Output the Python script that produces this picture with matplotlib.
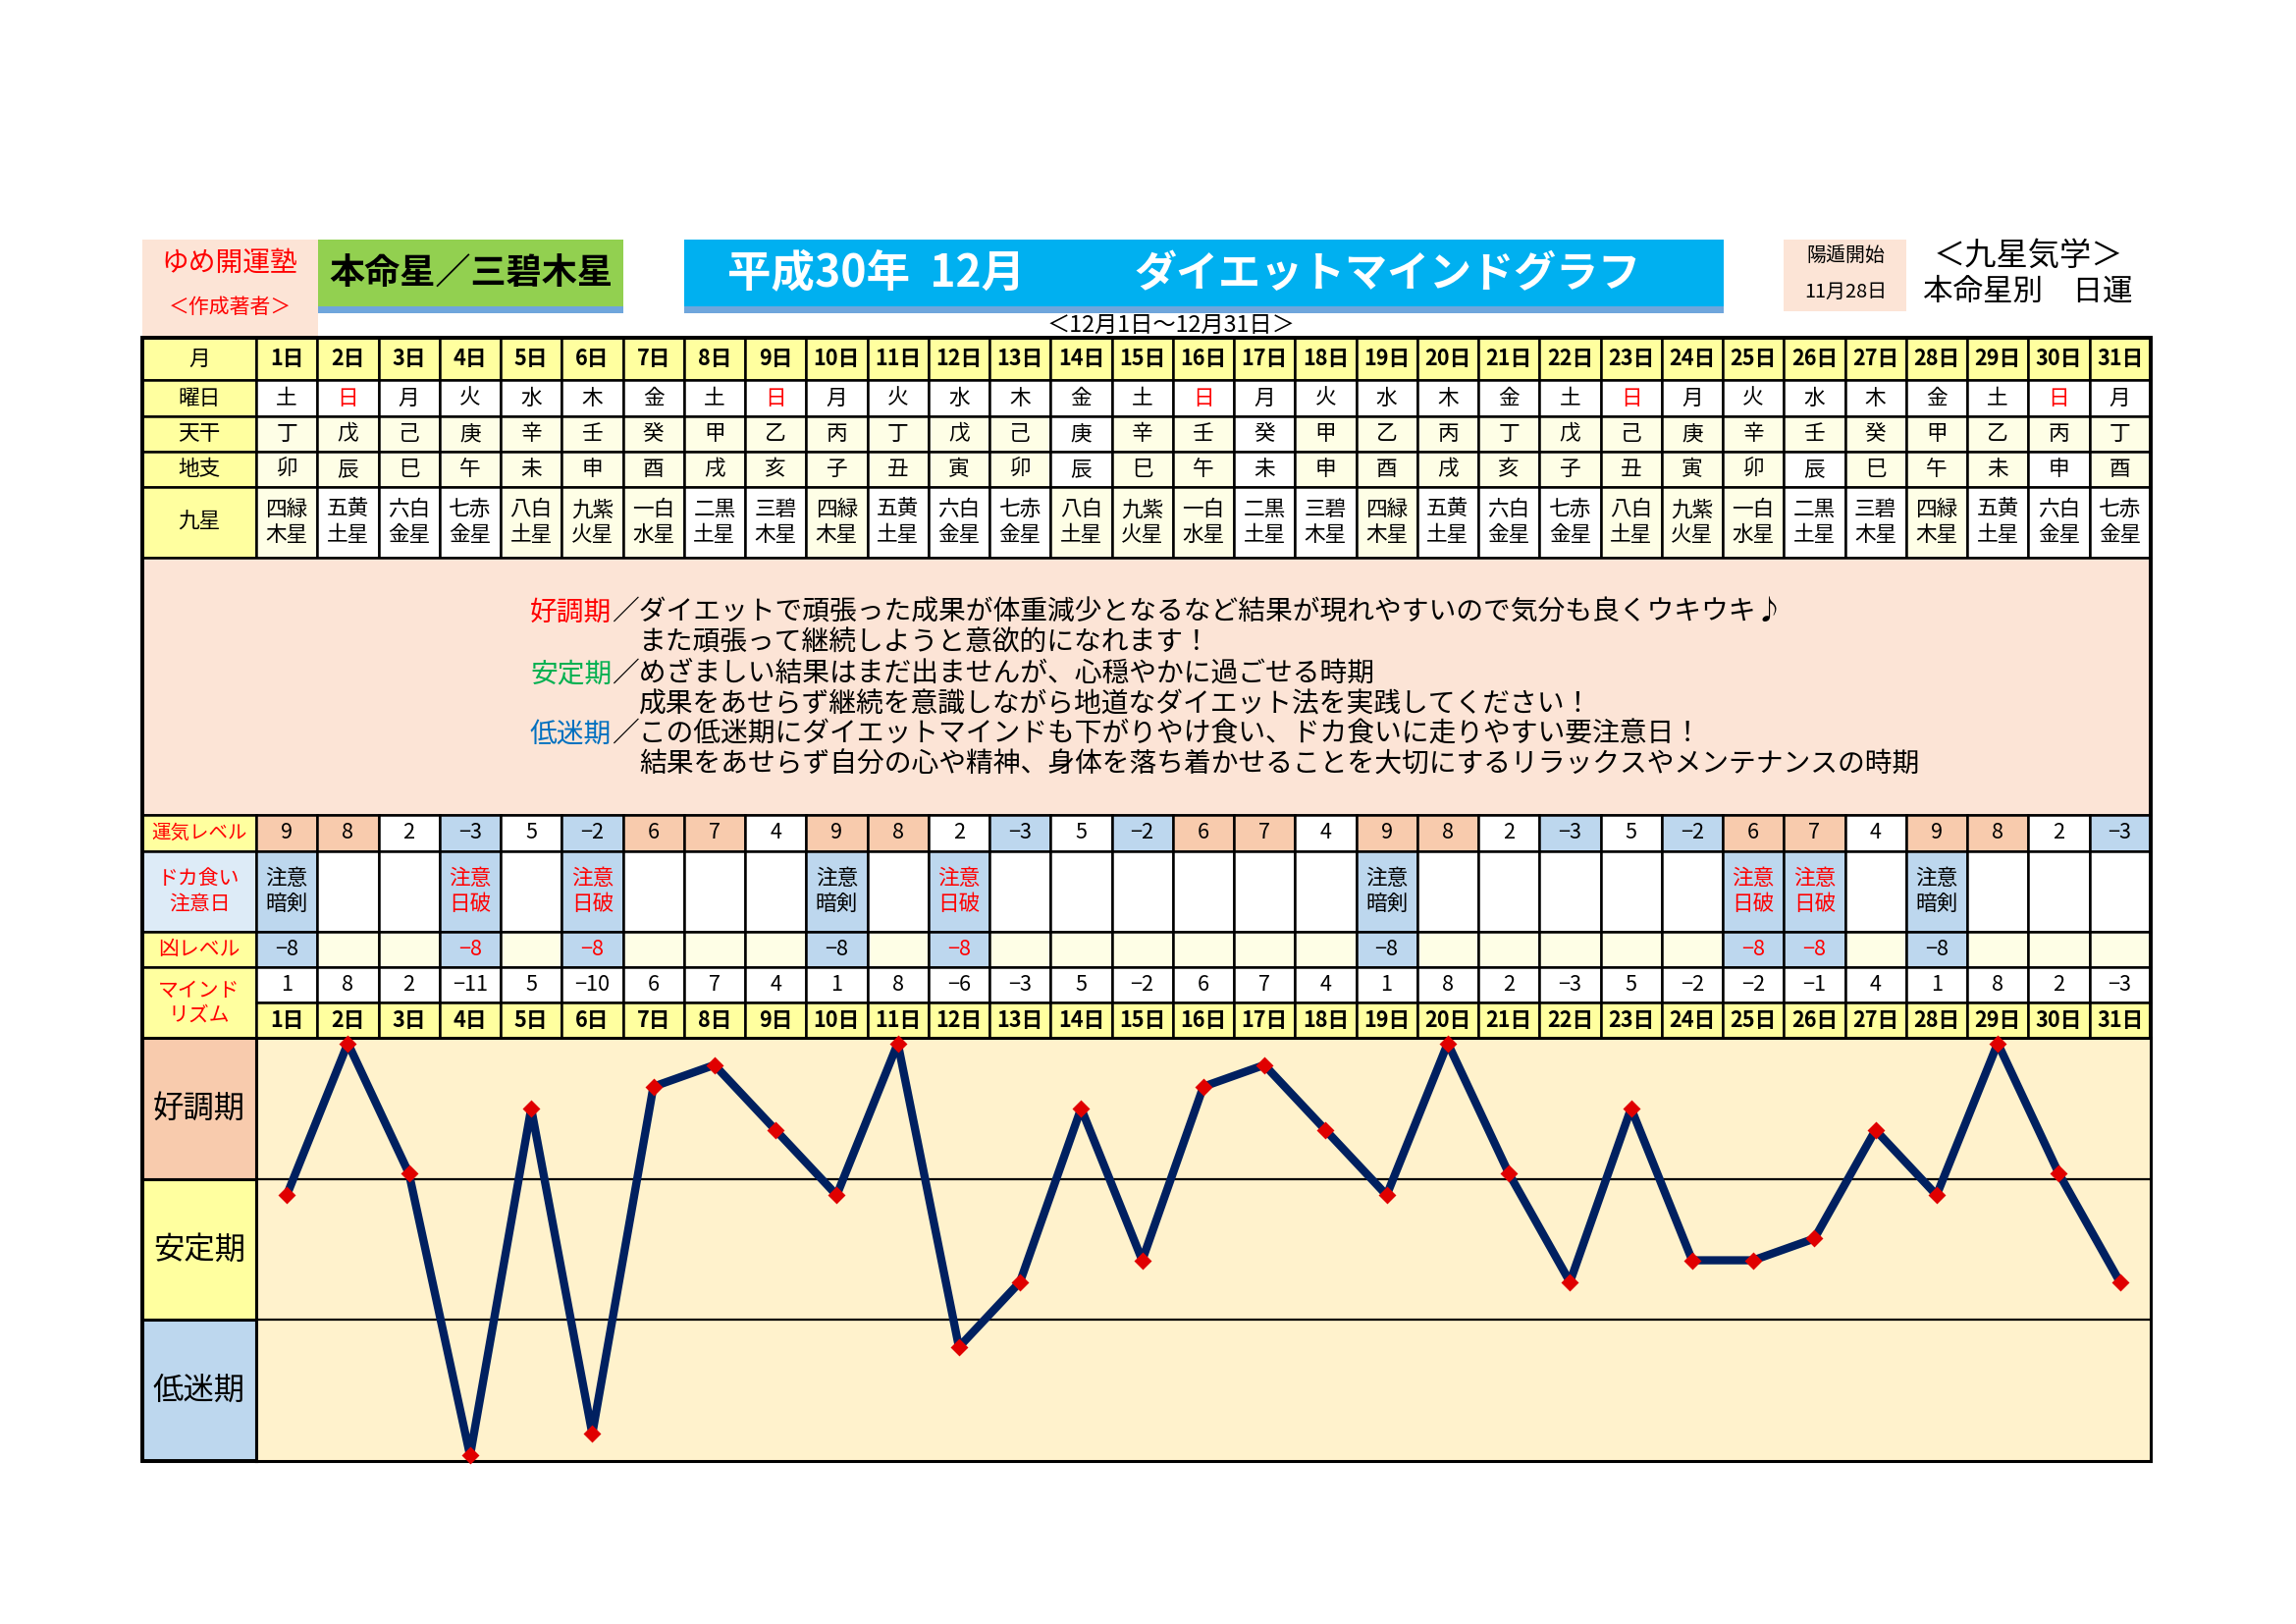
import matplotlib
matplotlib.use("Agg")
import matplotlib.pyplot as plt
from matplotlib.patches import Rectangle

plt.rcParams['font.family'] = ['Noto Sans CJK JP', 'DejaVu Sans']

# ---- data ----
day_nums = [1, 2, 3, 4, 5, 6, 7, 8, 9, 10, 11, 12, 13, 14, 15, 16,
            17, 18, 19, 20, 21, 22, 23, 24, 25, 26, 27, 28, 29, 30, 31]
weekdays = ["土", "日", "月", "火", "水", "木", "金", "土", "日", "月", "火",
            "水", "木", "金", "土", "日", "月", "火", "水", "木", "金", "土",
            "日", "月", "火", "水", "木", "金", "土", "日", "月"]
tenkan = ["丁", "戊", "己", "庚", "辛", "壬", "癸", "甲", "乙", "丙", "丁",
          "戊", "己", "庚", "辛", "壬", "癸", "甲", "乙", "丙", "丁", "戊",
          "己", "庚", "辛", "壬", "癸", "甲", "乙", "丙", "丁"]
chishi = ["卯", "辰", "巳", "午", "未", "申", "酉", "戌", "亥", "子", "丑",
          "寅", "卯", "辰", "巳", "午", "未", "申", "酉", "戌", "亥", "子",
          "丑", "寅", "卯", "辰", "巳", "午", "未", "申", "酉"]
kyusei = ["四緑\n木星", "五黄\n土星", "六白\n金星", "七赤\n金星", "八白\n土星",
          "九紫\n火星", "一白\n水星", "二黒\n土星", "三碧\n木星",
          "四緑\n木星", "五黄\n土星", "六白\n金星", "七赤\n金星", "八白\n土星",
          "九紫\n火星", "一白\n水星", "二黒\n土星", "三碧\n木星",
          "四緑\n木星", "五黄\n土星", "六白\n金星", "七赤\n金星", "八白\n土星",
          "九紫\n火星", "一白\n水星", "二黒\n土星", "三碧\n木星",
          "四緑\n木星", "五黄\n土星", "六白\n金星", "七赤\n金星"]
unki_level = [9, 8, 2, -3, 5, -2, 6, 7, 4, 9, 8, 2, -3, 5, -2, 6,
              7, 4, 9, 8, 2, -3, 5, -2, 6, 7, 4, 9, 8, 2, -3]
caution_days = [1, 4, 6, 10, 12, 19, 25, 26, 28]
caution_kind = ["暗剣", "日破", "日破", "暗剣", "日破", "暗剣", "日破", "日破", "暗剣"]
kyo_value = -8
mind_rhythm = [1, 8, 2, -11, 5, -10, 6, 7, 4, 1, 8, -6, -3, 5, -2, 6,
               7, 4, 1, 8, 2, -3, 5, -2, -2, -1, 4, 1, 8, 2, -3]
phase_names = ["好調期", "安定期", "低迷期"]

notes = [
    ("好調期", "／ダイエットで頑張った成果が体重減少となるなど結果が現れやすいので気分も良くウキウキ♪",
     "また頑張って継続しようと意欲的になれます！"),
    ("安定期", "／めざましい結果はまだ出ませんが、心穏やかに過ごせる時期",
     "成果をあせらず継続を意識しながら地道なダイエット法を実践してください！"),
    ("低迷期", "／この低迷期にダイエットマインドも下がりやけ食い、ドカ食いに走りやすい要注意日！",
     "結果をあせらず自分の心や精神、身体を落ち着かせることを大切にするリラックスやメンテナンスの時期"),
]

# ---- colours ----
YELLOW = "#FFFF9F"
PALE = "#FEFEE6"
SALMON = "#F8CBAD"
BLUE = "#BDD7EE"
LBLUE = "#DDEBF7"
PEACH = "#FCE4D6"
GRAPH_BG = "#FFF2CC"
RED = "#FF0000"
note_colors = ["#FF0000", "#00B050", "#0070C0"]
pale_star = ("四緑", "八白", "九紫", "一白")
white_tenkan = (14, 17)
white_chishi = (14, 17, 26, 30)

# ---- layout (pixels) ----
W, H = 2339, 1654
TL, TLC = 145, 261
CW = 62.25
TR = TLC + 31 * CW
Y = [344, 387, 424, 460, 496, 568, 830, 867, 949, 985, 1021, 1057, 1488]
YMAX, YMIN = 8.25, -11.25
FS = 7.8


def num(v):
    return str(v).replace("-", "\u2212")


fig = plt.figure(figsize=(W / 200, H / 200), dpi=200)
cv = fig.add_axes([0, 0, 1, 1])
cv.set_xlim(0, W)
cv.set_ylim(H, 0)
cv.axis("off")


def box(x0, y0, x1, y1, fc, lw=0.9, ec="black"):
    cv.add_patch(Rectangle((x0, y0), x1 - x0, y1 - y0, facecolor=fc,
                           edgecolor=ec, linewidth=lw))


def txt(x, y, s, size=FS, color="black", weight="normal", ha="center", ls=1.15):
    cv.text(x, y, s, fontsize=size, color=color, fontweight=weight,
            ha=ha, va="center", linespacing=ls)


def cx(i):
    return TLC + (i + 0.5) * CW


# ---- header blocks ----
box(TL, 244, 324, Y[0], PEACH, lw=0)
txt(234, 268, "ゆめ開運塾", size=10, color=RED)
txt(234, 313, "＜作成著者＞", size=7.5, color=RED)

box(324, 244, 635, 312, "#92D050", lw=0)
box(324, 312, 635, 319, "#6FA6DC", lw=0)
txt(480, 279, "本命星／三碧木星", size=13, weight="bold")

box(697, 244, 1756, 312, "#00B0F0", lw=0)
box(697, 312, 1756, 319, "#6FA6DC", lw=0)
txt(893, 279, "平成30年  12月", size=16, color="white", weight="bold")
txt(1413, 279, "ダイエットマインドグラフ", size=15.5, color="white", weight="bold")

box(1817, 244, 1942, 317, PEACH, lw=0)
txt(1880, 260, "陽遁開始", size=7.2)
txt(1880, 297, "11月28日", size=7.2)

txt(2066, 261, "＜九星気学＞", size=11.6)
txt(2066, 297, "本命星別　日運", size=11)
txt(1193, 331, "＜12月1日～12月31日＞", size=8.4)

# ---- calendar rows ----
row_labels = ["月", "曜日", "天干", "地支", "九星"]
for r, lab in enumerate(row_labels):
    box(TL, Y[r], TLC, Y[r + 1], YELLOW)
    txt((TL + TLC) / 2, (Y[r] + Y[r + 1]) / 2, lab)

for i, d in enumerate(day_nums):
    x0, x1 = TLC + i * CW, TLC + (i + 1) * CW
    box(x0, Y[0], x1, Y[1], YELLOW)
    txt(cx(i), (Y[0] + Y[1]) / 2, f"{d}日", weight="bold")

    box(x0, Y[1], x1, Y[2], "white")
    txt(cx(i), (Y[1] + Y[2]) / 2, weekdays[i],
        color=RED if weekdays[i] == "日" else "black")

    box(x0, Y[2], x1, Y[3], "white" if d in white_tenkan else PALE)
    txt(cx(i), (Y[2] + Y[3]) / 2, tenkan[i])

    box(x0, Y[3], x1, Y[4], "white" if d in white_chishi else PALE)
    txt(cx(i), (Y[3] + Y[4]) / 2, chishi[i])

    box(x0, Y[4], x1, Y[5], PALE if kyusei[i][:2] in pale_star else "white")
    txt(cx(i), (Y[4] + Y[5]) / 2, kyusei[i], ls=1.2)

# ---- description block ----
box(TL, Y[5], TR, Y[6], PEACH)
NFS = 10
em = NFS * 200 / 72
ny = 624
for (head, rest, cont), col in zip(notes, note_colors):
    txt(540, ny, head, size=NFS, color=col, ha="left")
    txt(540 + 3 * em, ny, rest, size=NFS, ha="left")
    txt(540 + 4 * em, ny + 31, cont, size=NFS, ha="left")
    ny += 62

# ---- level rows ----
box(TL, Y[6], TLC, Y[7], YELLOW)
txt((TL + TLC) / 2, (Y[6] + Y[7]) / 2, "運気レベル", size=7, color=RED)
box(TL, Y[7], TLC, Y[8], LBLUE)
txt((TL + TLC) / 2, (Y[7] + Y[8]) / 2, "ドカ食い\n注意日", size=7.5, color=RED)
box(TL, Y[8], TLC, Y[9], YELLOW)
txt((TL + TLC) / 2, (Y[8] + Y[9]) / 2, "凶レベル", size=7.5, color=RED)
box(TL, Y[9], TLC, Y[11], YELLOW)
txt((TL + TLC) / 2, (Y[9] + Y[11]) / 2, "マインド\nリズム", size=7.5, color=RED)

for i, d in enumerate(day_nums):
    x0, x1 = TLC + i * CW, TLC + (i + 1) * CW
    v = unki_level[i]
    fc = SALMON if v >= 6 else (BLUE if v < 0 else "white")
    box(x0, Y[6], x1, Y[7], fc)
    txt(cx(i), (Y[6] + Y[7]) / 2, num(v))

    if d in caution_days:
        kind = caution_kind[caution_days.index(d)]
        col = RED if kind == "日破" else "black"
        box(x0, Y[7], x1, Y[8], BLUE)
        txt(cx(i), (Y[7] + Y[8]) / 2, "注意\n" + kind, color=col, ls=1.2)
        box(x0, Y[8], x1, Y[9], BLUE)
        txt(cx(i), (Y[8] + Y[9]) / 2, num(kyo_value), color=col)
    else:
        box(x0, Y[7], x1, Y[8], "white")
        box(x0, Y[8], x1, Y[9], PALE)

    box(x0, Y[9], x1, Y[10], "white")
    txt(cx(i), (Y[9] + Y[10]) / 2, num(mind_rhythm[i]))
    box(x0, Y[10], x1, Y[11], YELLOW)
    txt(cx(i), (Y[10] + Y[11]) / 2, f"{d}日", weight="bold")

# ---- graph: phase labels ----
gtop, gbot = Y[11], Y[12]
band_edges = [gtop + k * (gbot - gtop) / 3 for k in range(4)]
for k, (name, fc) in enumerate(zip(phase_names, [SALMON, YELLOW, BLUE])):
    box(TL, band_edges[k], TLC, band_edges[k + 1], fc, lw=1.1)
    txt((TL + TLC) / 2, (band_edges[k] + band_edges[k + 1]) / 2, name, size=11.3)

ax = fig.add_axes([TLC / W, 1 - gbot / H, (TR - TLC) / W, (gbot - gtop) / H])
ax.set_facecolor(GRAPH_BG)
ax.set_xlim(0.5, 31.5)
ax.set_ylim(YMIN, YMAX)
band = (YMAX - YMIN) / 3
ax.axhline(YMAX - band, color="black", lw=0.8)
ax.axhline(YMAX - 2 * band, color="black", lw=0.8)
ax.plot(day_nums, mind_rhythm, color="#002060", lw=3.0, zorder=3)
ax.plot(day_nums, mind_rhythm, ls="none", marker="D", ms=3.6,
        color="#E00000", clip_on=False, zorder=4)
ax.set_xticks([])
ax.set_yticks([])
for sp in ax.spines.values():
    sp.set_linewidth(1.1)

# thicker outer frame of the table
cv.add_patch(Rectangle((TL, Y[0]), TR - TL, gbot - Y[0], fill=False,
                       edgecolor="black", linewidth=1.4, zorder=5))

fig.savefig("out.png", dpi=200)
